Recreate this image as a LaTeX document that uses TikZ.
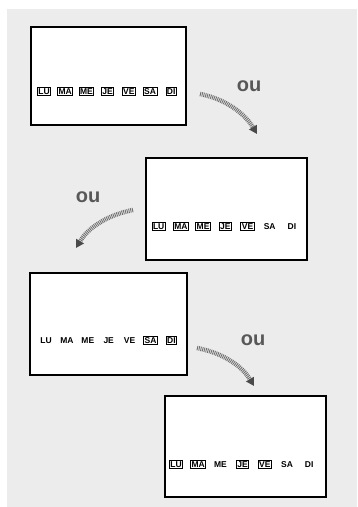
\documentclass[tikz,border=0pt]{standalone}
\usepackage{fontspec}
\setmainfont{Liberation Sans}
\usetikzlibrary{arrows.meta}
\definecolor{bg}{HTML}{EBECEB}
\definecolor{ougray}{HTML}{585858}
\definecolor{hatch}{HTML}{707070}
\definecolor{tipgray}{HTML}{4A4A4A}
\tikzset{
  screen/.style={draw=black, line width=1.8pt, fill=white, inner sep=0pt, anchor=north west},
  day/.style={font=\bfseries\fontsize{8.5}{9}\selectfont, inner sep=1pt, text height=6.2pt, text depth=0pt},
  dayon/.style={day, draw=black, line width=0.75pt},
  dayoff/.style={day},
  ortext/.style={font=\bfseries\fontsize{20}{22}\selectfont, text=ougray},
  hatcharrow/.style={draw=hatch, line width=4.5pt, dash pattern=on 0.9pt off 0.9pt,
    -{Triangle[length=8pt,width=8.5pt,color=tipgray]}}
}
\begin{document}
\begin{tikzpicture}[x=1pt,y=-1pt]
\useasboundingbox (0,0) rectangle (357,507);
\fill[bg] (7,9) rectangle (357,507);
% screens
\node[screen, minimum width=155pt, minimum height=98pt] (s1) at (30,26) {};
\node[screen, minimum width=161pt, minimum height=102pt] (s2) at (145,157) {};
\node[screen, minimum width=157pt, minimum height=102pt] (s3) at (29,272) {};
\node[screen, minimum width=161pt, minimum height=101pt] (s4) at (164,395) {};
% days
\foreach \d/\st [count=\i] in {LU/dayon,MA/dayon,ME/dayon,JE/dayon,VE/dayon,SA/dayon,DI/dayon}
  \node[\st] (s1d\i) at ({44+21.2*(\i-1)},91) {\d};
\foreach \d/\st [count=\i] in {LU/dayon,MA/dayon,ME/dayon,JE/dayon,VE/dayon,SA/dayoff,DI/dayoff}
  \node[\st] (s2d\i) at ({158.7+22.2*(\i-1)},226) {\d};
\foreach \d/\st [count=\i] in {LU/dayoff,MA/dayoff,ME/dayoff,JE/dayoff,VE/dayoff,SA/dayon,DI/dayon}
  \node[\st] (s3d\i) at ({46+20.9*(\i-1)},340) {\d};
\foreach \d/\st [count=\i] in {LU/dayon,MA/dayon,ME/dayoff,JE/dayon,VE/dayon,SA/dayoff,DI/dayoff}
  \node[\st] (s4d\i) at ({176+22.2*(\i-1)},464) {\d};
% ou labels
\node[ortext] (ou1) at (249,86) {ou};
\node[ortext] (ou2) at (88,197) {ou};
\node[ortext] (ou3) at (253,340) {ou};
% arrows
\coordinate (a1s) at (200,94);
\coordinate (a1e) at (257,134);
\coordinate (a2s) at (133,210);
\coordinate (a2e) at (76,248);
\coordinate (a3s) at (197,348);
\coordinate (a3e) at (254,386);
\draw[hatcharrow] (a1s) .. controls (226,99) and (245,114) .. (a1e);
\draw[hatcharrow] (a2s) .. controls (107,215) and (88,228) .. (a2e);
\draw[hatcharrow] (a3s) .. controls (223,353) and (242,366) .. (a3e);
\end{tikzpicture}
\end{document}
